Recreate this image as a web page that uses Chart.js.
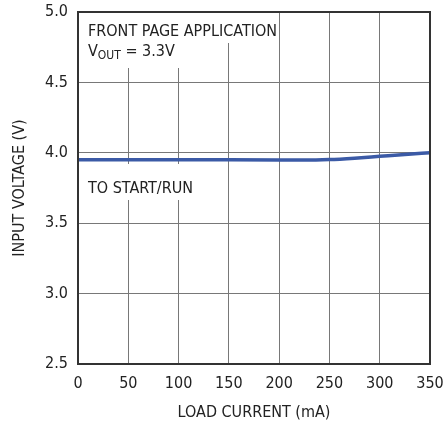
<!DOCTYPE html>
<html>
<head>
<meta charset="utf-8">
<script src="https://cdn.jsdelivr.net/npm/chart.js@4.4.1/dist/chart.umd.min.js"></script>
<style>
  html, body { margin: 0; padding: 0; background: #fff; }
  #wrap { width: 445px; height: 422px; position: relative; }
</style>
</head>
<body>
<div id="wrap"><canvas id="myChart" width="445" height="422"></canvas></div>
<script>
// load current (mA) vs input voltage (V)
const loadCurrent = [0, 50, 100, 150, 200, 225, 250, 275, 300, 325, 350];
const inputVoltage = [3.95, 3.95, 3.95, 3.95, 3.949, 3.948, 3.952, 3.962, 3.975, 3.988, 4.0];
const xTicks = [0, 50, 100, 150, 200, 250, 300, 350];
const yTicks = [2.5, 3.0, 3.5, 4.0, 4.5, 5.0];

const FONT = "'Liberation Sans Narrow', 'DejaVu Sans Condensed', 'Liberation Sans', sans-serif";
const INK = '#222';

const notes = {
    id: 'notes',
    beforeDatasetsDraw(chart) {
        const ctx = chart.ctx;
        const area = chart.chartArea;
        ctx.save();
        ctx.textBaseline = 'alphabetic';
        ctx.fillStyle = '#fff';
        // white boxes behind the text (grid lines stop around them)
        ctx.font = '16px ' + FONT;
        ctx.fillRect(area.left + 2, area.top + 1, 180, 30);
        ctx.fillRect(area.left + 2, area.top + 1, 100, 55);
        const w3 = ctx.measureText('TO START/RUN').width;
        ctx.fillRect(area.left + 2, 164, w3 + 16, 36);

        ctx.fillStyle = INK;
        ctx.fillText('FRONT PAGE APPLICATION', area.left + 10, area.top + 24);
        let x = area.left + 10;
        const y2 = area.top + 44;
        ctx.fillText('V', x, y2);
        x += ctx.measureText('V').width;
        ctx.font = '12px ' + FONT;
        ctx.fillText('OUT', x, y2 + 3);
        x += ctx.measureText('OUT').width;
        ctx.font = '16px ' + FONT;
        ctx.fillText(' = 3.3V', x, y2);
        ctx.fillText('TO START/RUN', area.left + 10, 193);
        ctx.restore();
    },
    afterDraw(chart) {
        const ctx = chart.ctx;
        const a = chart.chartArea;
        ctx.save();
        ctx.strokeStyle = '#333';
        ctx.lineWidth = 2;
        ctx.strokeRect(a.left, a.top, a.right - a.left, a.bottom - a.top);
        ctx.restore();
    }
};

new Chart(document.getElementById('myChart'), {
    type: 'line',
    data: {
        labels: loadCurrent,
        datasets: [{
            data: loadCurrent.map((x, i) => ({ x: x, y: inputVoltage[i] })),
            borderColor: '#3b5aa6',
            borderWidth: 3.5,
            pointRadius: 0,
            cubicInterpolationMode: 'monotone',
            fill: false
        }]
    },
    options: {
        responsive: false,
        animation: false,
        layout: { padding: { left: 10, right: 15, top: 12, bottom: 0 } },
        plugins: {
            legend: { display: false },
            tooltip: { enabled: false }
        },
        scales: {
            x: {
                type: 'linear',
                min: 0,
                max: 350,
                afterBuildTicks(scale) { scale.ticks = xTicks.map(v => ({ value: v })); },
                afterFit(scale) {
                    scale.height = 58;
                    scale.paddingLeft = 0;
                    scale.paddingRight = 0;
                },
                grid: { color: '#787878', lineWidth: 1, drawTicks: false },
                border: { display: false },
                ticks: {
                    padding: 10,
                    color: INK,
                    font: { family: FONT, size: 16 },
                    maxRotation: 0,
                    autoSkip: false
                },
                title: {
                    display: true,
                    text: 'LOAD CURRENT (mA)',
                    color: INK,
                    font: { family: FONT, size: 16 },
                    padding: { top: 4, bottom: 0 }
                }
            },
            y: {
                min: 2.5,
                max: 5.0,
                afterBuildTicks(scale) { scale.ticks = yTicks.map(v => ({ value: v })); },
                afterFit(scale) {
                    scale.width = 68;
                    scale.paddingTop = 0;
                    scale.paddingBottom = 0;
                },
                grid: { color: '#787878', lineWidth: 1, drawTicks: false },
                border: { display: false },
                ticks: {
                    padding: 10,
                    color: INK,
                    font: { family: FONT, size: 16 },
                    callback: v => v.toFixed(1)
                },
                title: {
                    display: true,
                    text: 'INPUT VOLTAGE (V)',
                    color: INK,
                    font: { family: FONT, size: 16 },
                    padding: { top: 0, bottom: 10 }
                }
            }
        }
    },
    plugins: [notes]
});
</script>
</body>
</html>
